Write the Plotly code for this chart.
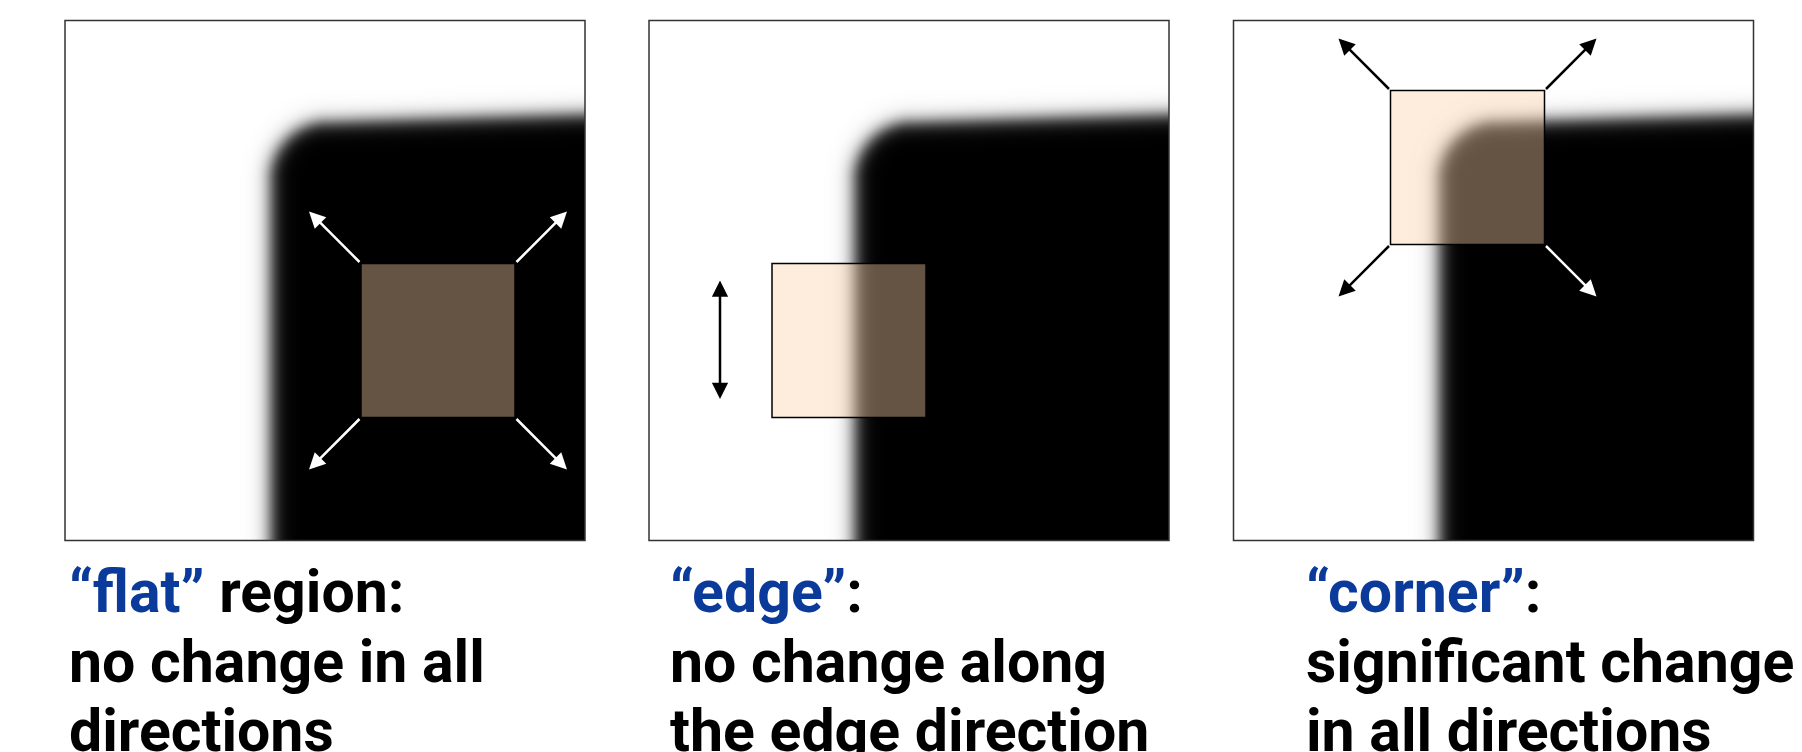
"""
# Janelas: flat / edge / corner
"""

# Bibliotecas
import numpy as np
import plotly.graph_objects as go

# Dados dos paineis
titulos = ['“flat”', '“edge”', '“corner”']
sufixos = [' region:', ':', ':']
linha2 = ['no change in all', 'no change along', 'significant change']
linha3 = ['directions', 'the edge direction', 'in all directions']

painel_x = [65, 649, 1233.5]
texto_x = [67, 668, 1304]
janela_x = [296, 123, 157]
janela_y = [243, 243, 70]

# Tamanhos gerais
largura, altura = 1802, 752
lado = 520
topo = 20.5
jan = 154
azul = '#0a3a9a'
fonte = 'Roboto'
tam = 59

# Imagem borrada (canto arredondado preto)
def imagem_canto(passo=2):
    rel = np.arange(passo / 2, lado, passo)
    xx, yy = np.meshgrid(rel, rel)
    L, T, R, sigma = 205, 101, 58, 8.5
    t_eff = T - 0.03 * np.clip(xx - L - R, 0, None)
    qx = (L + R) - xx
    qy = (t_eff + R) - yy
    dist = (np.hypot(np.clip(qx, 0, None), np.clip(qy, 0, None))
            + np.minimum(np.maximum(qx, qy), 0) - R)
    branco = 1 / (1 + np.exp(-1.702 * dist / sigma))
    return rel, branco

rel, z = imagem_canto()

# Converter pixel vertical para coordenada paper
def py(y):
    return 1 - y / altura

fig = go.Figure()

for i in range(3):
    x0 = painel_x[i]
    fig.add_trace(go.Heatmap(
        x=x0 + rel, y=topo + rel, z=z,
        colorscale=[[0, 'black'], [1, 'white']],
        zmin=0, zmax=1, showscale=False, zsmooth='best',
        hoverinfo='skip'
    ))

    # Janela
    jx = x0 + janela_x[i]
    jy = topo + janela_y[i]
    fig.add_shape(type='rect', x0=jx, x1=jx + jan, y0=jy, y1=jy + jan,
                  fillcolor='rgba(252,210,168,0.4)',
                  line=dict(color='black', width=1.5))

    # Borda do painel
    fig.add_shape(type='rect', x0=x0, x1=x0 + lado, y0=topo, y1=topo + lado,
                  line=dict(color='#333333', width=1.5))

    # Textos
    textos = [f'<span style="color:{azul}">{titulos[i]}</span>{sufixos[i]}',
              linha2[i], linha3[i]]
    for texto, yb in zip(textos, [628, 698, 767]):
        fig.add_annotation(x=texto_x[i], y=py(yb), xref='x', yref='paper',
                           text=texto, showarrow=False,
                           xanchor='left', yanchor='bottom')

# Setas diagonais (flat e corner)
def seta(x, y, ax, ay, cor):
    fig.add_annotation(x=x, y=y, ax=ax, ay=ay, xref='x', yref='y',
                       axref='x', ayref='y', showarrow=True, text='',
                       arrowhead=2, arrowsize=1.3, arrowwidth=2.5,
                       arrowcolor=cor)

for i, cores in [(0, ['white'] * 4), (2, ['black', 'black', 'black', 'white'])]:
    jx = painel_x[i] + janela_x[i]
    jy = topo + janela_y[i]
    cantos = [(jx, jy, -1, -1), (jx + jan, jy, 1, -1),
              (jx, jy + jan, -1, 1), (jx + jan, jy + jan, 1, 1)]
    for (cx, cy, sx, sy), cor in zip(cantos, cores):
        seta(cx + 52 * sx, cy + 52 * sy, cx, cy, cor)

# Seta dupla (edge)
fig.add_annotation(x=painel_x[1] + 71, y=topo + 260, ax=painel_x[1] + 71,
                   ay=topo + 380, xref='x', yref='y', axref='x', ayref='y',
                   showarrow=True, text='', arrowhead=2, arrowside='end+start',
                   arrowsize=1.3, arrowwidth=2.5, arrowcolor='black')

fig.update_layout(
    width=largura, height=altura,
    margin=dict(l=0, r=0, t=0, b=0),
    plot_bgcolor='white', paper_bgcolor='white',
    font=dict(family=fonte, size=tam, color='black'),
    xaxis=dict(range=[0, largura], visible=False, fixedrange=True),
    yaxis=dict(range=[altura, 0], visible=False, fixedrange=True),
    showlegend=False
)
fig.update_annotations(font=dict(family=fonte, size=tam, color='black', weight='bold'))

fig.write_html('out.html', config={'displayModeBar': False},
               post_script="document.body.style.margin='0';document.body.style.overflow='hidden';")
